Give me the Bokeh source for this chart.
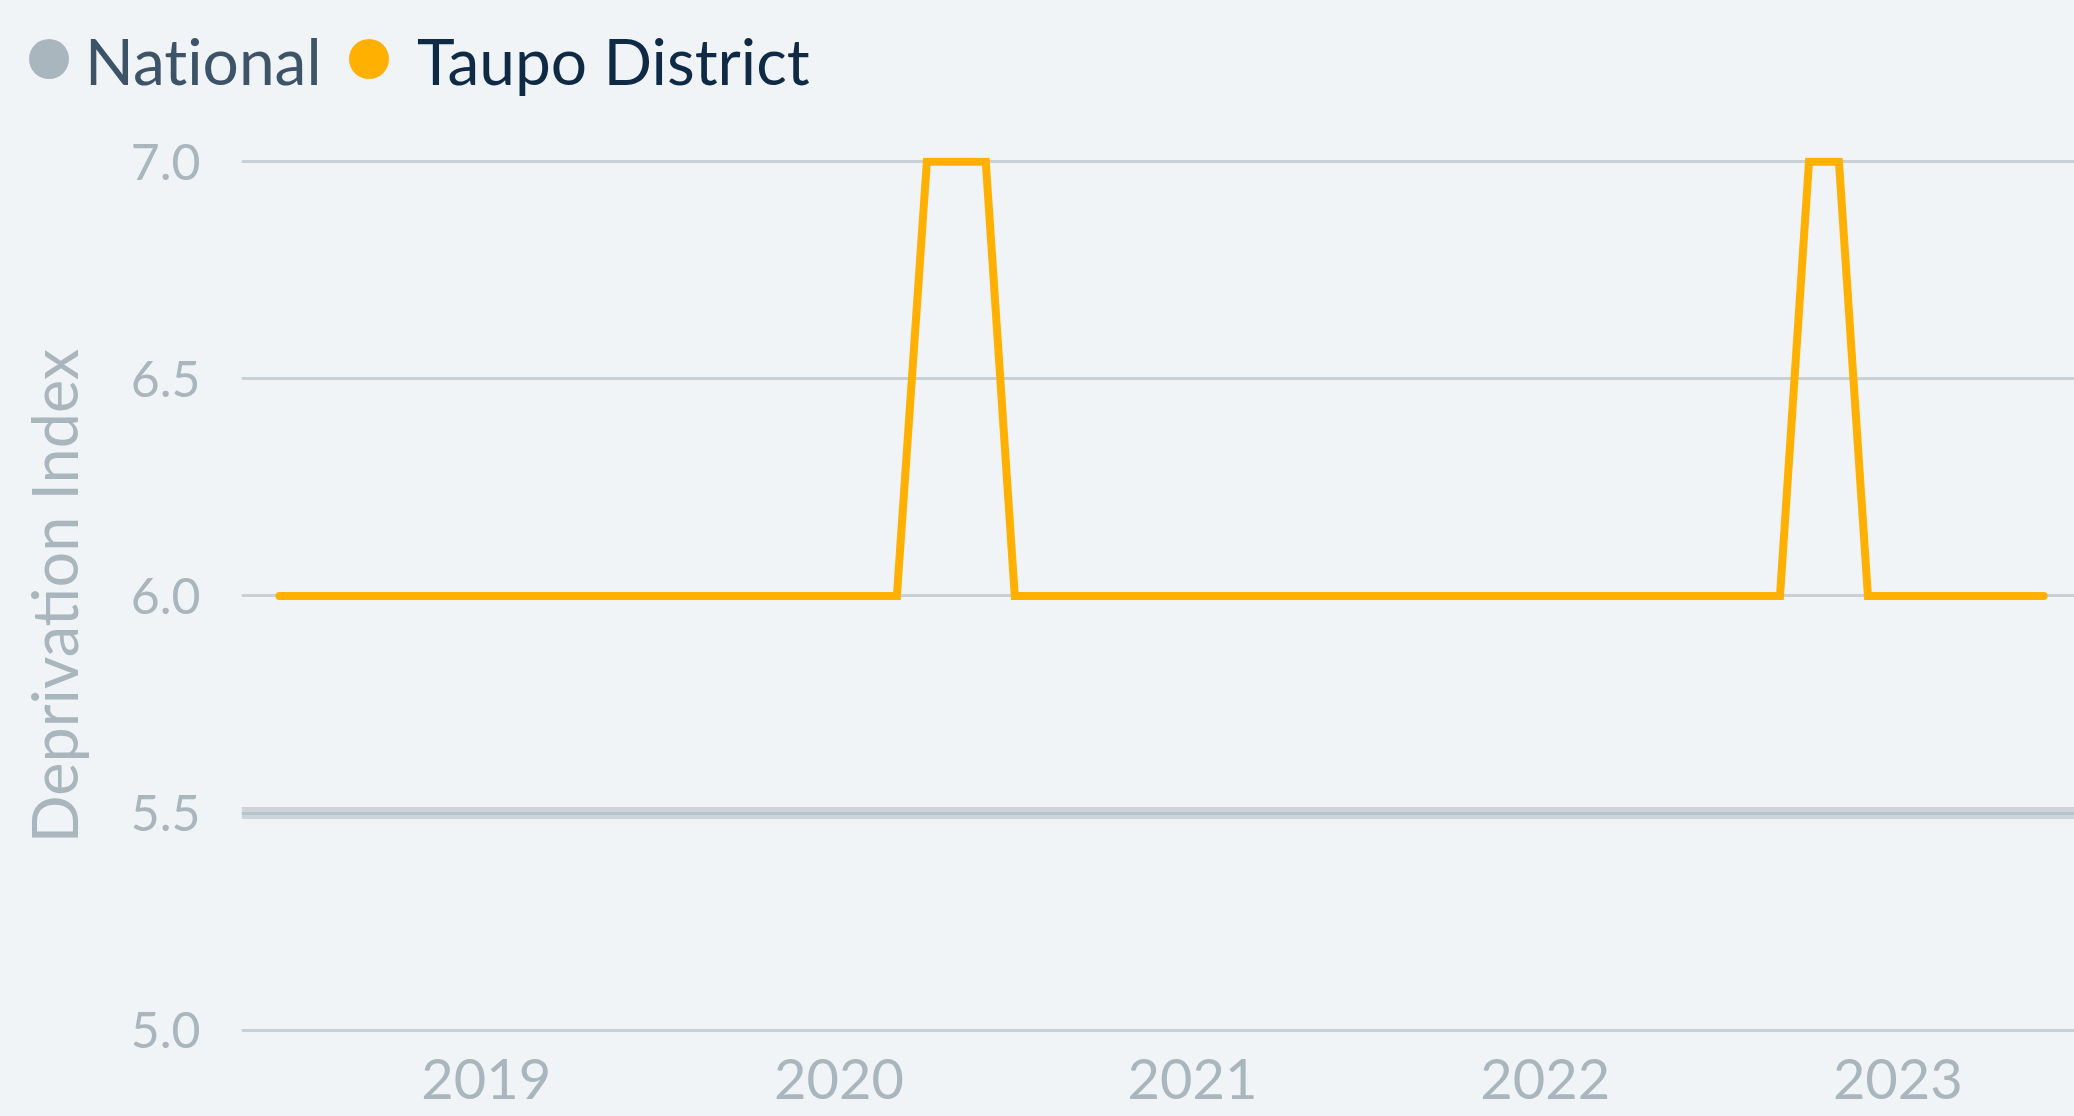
import pandas as pd
from bokeh.plotting import figure
from bokeh.layouts import column
from bokeh.models import (Range1d, FixedTicker, DatetimeTickFormatter,
                          PrintfTickFormatter, Span, ColumnDataSource, Div)
from bokeh.embed import file_html
from bokeh.resources import INLINE

# ---------------- data ----------------
MONTHS = pd.date_range("2018-06-01", "2023-06-01", freq="MS")
TAUPO = [
    6, 6, 6, 6, 6, 6, 6,                         # Jun-Dec 2018
    6, 6, 6, 6, 6, 6, 6, 6, 6, 6, 6, 6,          # 2019
    6, 6, 6, 7, 7, 7, 6, 6, 6, 6, 6, 6,          # 2020
    6, 6, 6, 6, 6, 6, 6, 6, 6, 6, 6, 6,          # 2021
    6, 6, 6, 6, 6, 6, 6, 6, 6, 7, 7, 6,          # 2022
    6, 6, 6, 6, 6, 6,                            # Jan-Jun 2023
]
NATIONAL = 5.5
SERIES_NAMES = ["National", "Taupo District"]
Y_TICKS = [5.0, 5.5, 6.0, 6.5, 7.0]
X_TICK_YEARS = [2019, 2020, 2021, 2022, 2023]
Y_LABEL = "Deprivation Index"

# ---------------- style ----------------
BG = "#f0f4f7"
GRID = "#c9d1d7"
MUTED = "#a9b6bd"
AMBER = "#ffb000"
FONT = "Lato"
SWATCH_COLORS = [MUTED, AMBER]
LABEL_COLORS = ["#3d5368", "#0f2a44"]

# ---------------- geometry ----------------
W, H = 2074, 1116
LEGEND_H = 110
FRAME_LEFT = 241
FRAME_TOP = 157
BOTTOM = 82
PLOT_H = H - LEGEND_H
FRAME_H = PLOT_H - (FRAME_TOP - LEGEND_H) - BOTTOM
PX_PER_UNIT = 434.25
y_start = 4.99
y_end = y_start + FRAME_H / PX_PER_UNIT

anchor = MONTHS[0]
px_per_day = 352.9 / 365.25
x_start = anchor - pd.Timedelta(days=38 / px_per_day)
x_end = anchor + pd.Timedelta(days=(W - 279) / px_per_day)

# ---------------- legend (inline SVG) ----------------
swatch_x = [49, 369]
text_x = [85, 417]
parts = [f'<svg xmlns="http://www.w3.org/2000/svg" width="{W}" height="{LEGEND_H}" '
         f'style="display:block;background:{BG}">']
for name, sc, tc, cx, tx in zip(SERIES_NAMES, SWATCH_COLORS, LABEL_COLORS, swatch_x, text_x):
    parts.append(f'<circle cx="{cx}" cy="59" r="20" fill="{sc}"/>')
    parts.append(f'<text x="{tx}" y="85" style="font-family:{FONT};font-size:64px;'
                 f'font-weight:normal;font-variant-ligatures:none;'
                 f'font-feature-settings:\'liga\' 0;fill:{tc}">{name}</text>')
parts.append('</svg>')
legend = Div(text="".join(parts), width=W, height=LEGEND_H,
             styles={"margin": "0", "padding": "0", "background-color": BG,
                     "font-family": FONT})

# ---------------- main plot ----------------
p = figure(x_axis_type="datetime", width=W, height=PLOT_H,
           x_range=Range1d(x_start, x_end), y_range=Range1d(y_start, y_end),
           min_border_left=FRAME_LEFT, min_border_right=0,
           min_border_top=FRAME_TOP - LEGEND_H, min_border_bottom=BOTTOM,
           output_backend="svg", toolbar_location=None)
p.styles = {"background-color": BG}
p.background_fill_color = BG
p.border_fill_color = BG
p.outline_line_color = None

p.xgrid.visible = False
p.ygrid.grid_line_color = GRID
p.ygrid.grid_line_width = 3
p.yaxis.ticker = FixedTicker(ticks=Y_TICKS)
p.yaxis.formatter = PrintfTickFormatter(format="%.1f")

tick_ms = [pd.Timestamp(f"{y}-01-01").value // 10**6 for y in X_TICK_YEARS]
p.xaxis.ticker = FixedTicker(ticks=tick_ms)
p.xaxis.formatter = DatetimeTickFormatter(
    microseconds="%Y", milliseconds="%Y", seconds="%Y", minsec="%Y",
    minutes="%Y", hourmin="%Y", hours="%Y", days="%Y", months="%Y", years="%Y")

for ax in (p.xaxis, p.yaxis):
    ax.axis_line_color = None
    ax.major_tick_line_color = None
    ax.minor_tick_line_color = None
    ax.major_tick_out = 0
    ax.minor_tick_out = 0
    ax.major_label_text_color = MUTED
    ax.major_label_text_font = FONT

p.xaxis.major_label_text_font_size = "56px"
p.xaxis.major_label_standoff = 24
p.yaxis.major_label_text_font_size = "50px"
p.yaxis.major_label_standoff = 41

p.yaxis.axis_label = Y_LABEL
p.yaxis.axis_label_text_font = FONT
p.yaxis.axis_label_text_font_size = "63px"
p.yaxis.axis_label_text_font_style = "normal"
p.yaxis.axis_label_text_color = MUTED
p.yaxis.axis_label_standoff = 37

# national reference line
p.add_layout(Span(location=NATIONAL, dimension="width", line_color=MUTED,
                  line_alpha=0.5, line_width=12))

# Taupo series
src = ColumnDataSource(dict(x=MONTHS, y=TAUPO))
p.line("x", "y", source=src, line_color=AMBER, line_width=8,
       line_cap="round", line_join="miter")

layout = column(legend, p, spacing=0)
layout.styles = {"background-color": BG}
open("out.html", "w").write(file_html(layout, INLINE))
